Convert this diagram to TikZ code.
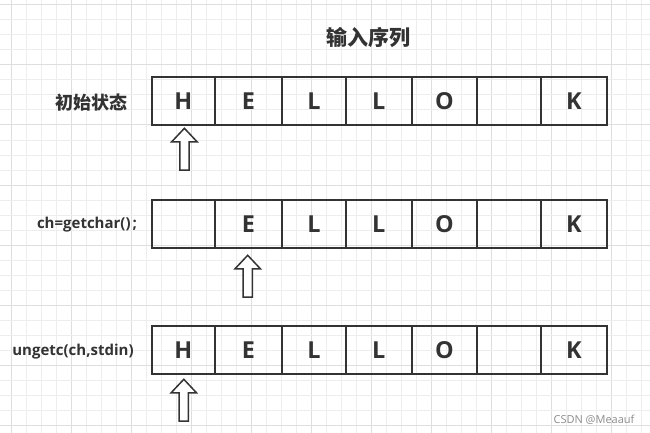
\documentclass[tikz,border=0pt]{standalone}
\usepackage{fontspec}
\setmainfont{Open Sans}
\newfontfamily\cjk{Noto Sans CJK SC}
\definecolor{ink}{HTML}{333333}
\definecolor{gridminor}{HTML}{EDEDED}
\definecolor{gridmajor}{HTML}{DEDEDE}
\definecolor{mark}{HTML}{8C8C8C}
\tikzset{
  cellbox/.style={draw=ink, line width=2pt, inner sep=0pt, minimum height=48pt,
    text=ink, font=\fontsize{23.4}{23.4}\selectfont\bfseries},
  ptr/.style={draw=ink, line width=1.5pt, fill=white, line join=miter},
  rowlabel/.style={text=ink, inner sep=0pt, font=\fontsize{15}{15}\selectfont\bfseries},
  cjklabel/.style={text=ink, inner sep=0pt, font=\cjk\fontsize{18}{18}\selectfont\bfseries},
  uparrow/.pic={\draw[ptr] (0,0) -- (12.7,13.5) -- (4.6,13.5) -- (4.6,41.7) -- (-4.6,41.7) -- (-4.6,13.5) -- (-12.7,13.5) -- cycle;}
}
\begin{document}
\begin{tikzpicture}[x=1pt,y=-1pt]
\useasboundingbox (0,0) rectangle (650,433);
\fill[white] (0,0) rectangle (650,433);
% grid
\foreach \k in {0,...,42}{
  \pgfmathsetmacro\gx{11.7+15*\k}
  \pgfmathtruncatemacro\m{mod(\k,4)}
  \ifnum\m=0 \draw[gridmajor, line width=1pt] (\gx,0) -- (\gx,433);
  \else \draw[gridminor, line width=1pt] (\gx,0) -- (\gx,433); \fi
}
\foreach \k in {0,...,28}{
  \pgfmathsetmacro\gy{5+15*\k}
  \pgfmathtruncatemacro\m{mod(\k,4)}
  \ifnum\m=0 \draw[gridmajor, line width=1pt] (0,\gy) -- (650,\gy);
  \else \draw[gridminor, line width=1pt] (0,\gy) -- (650,\gy); \fi
}
% title
\node[cjklabel, font=\cjk\fontsize{21}{21}\selectfont\bfseries] (title) at (368,37.5) {输入序列};
% row labels
\node[cjklabel] (lab1) at (91.3,102.5) {初始状态};
\node[rowlabel] (lab2) at (87,225) {ch=getchar()\kern2pt;};
\node[rowlabel] (lab3) at (73,351.7) {ungetc(ch,stdin)};
% rows of cells
\foreach \r/\cy/\t in {1/101/H, 2/223.85/{}, 3/350/H}{
  \foreach \i/\a/\b/\ch in {1/152/214.7/\t, 2/214.7/282/E, 3/282/346/L, 4/346/411.7/L, 5/411.7/477/O, 6/477/541.3/{}, 7/541.3/606.7/K}{
    \pgfmathsetmacro\w{\b-\a}
    \pgfmathsetmacro\c{(\a+\b)/2}
    \node[cellbox, minimum width=\w pt] (r\r c\i) at (\c,\cy) {\ch};
  }
}
% pointers
\coordinate (p1) at (184.4,128.3);
\coordinate (p2) at (247.7,255.3);
\coordinate (p3) at (183.8,379.3);
\pic at (p1) {uparrow};
\pic at (p2) {uparrow};
\pic at (p3) {uparrow};
% watermark
\node[text=mark, inner sep=0pt, font=\fontsize{11}{11}\selectfont] (wm) at (594,419.3) {CSDN @Meaauf};
\end{tikzpicture}
\end{document}
